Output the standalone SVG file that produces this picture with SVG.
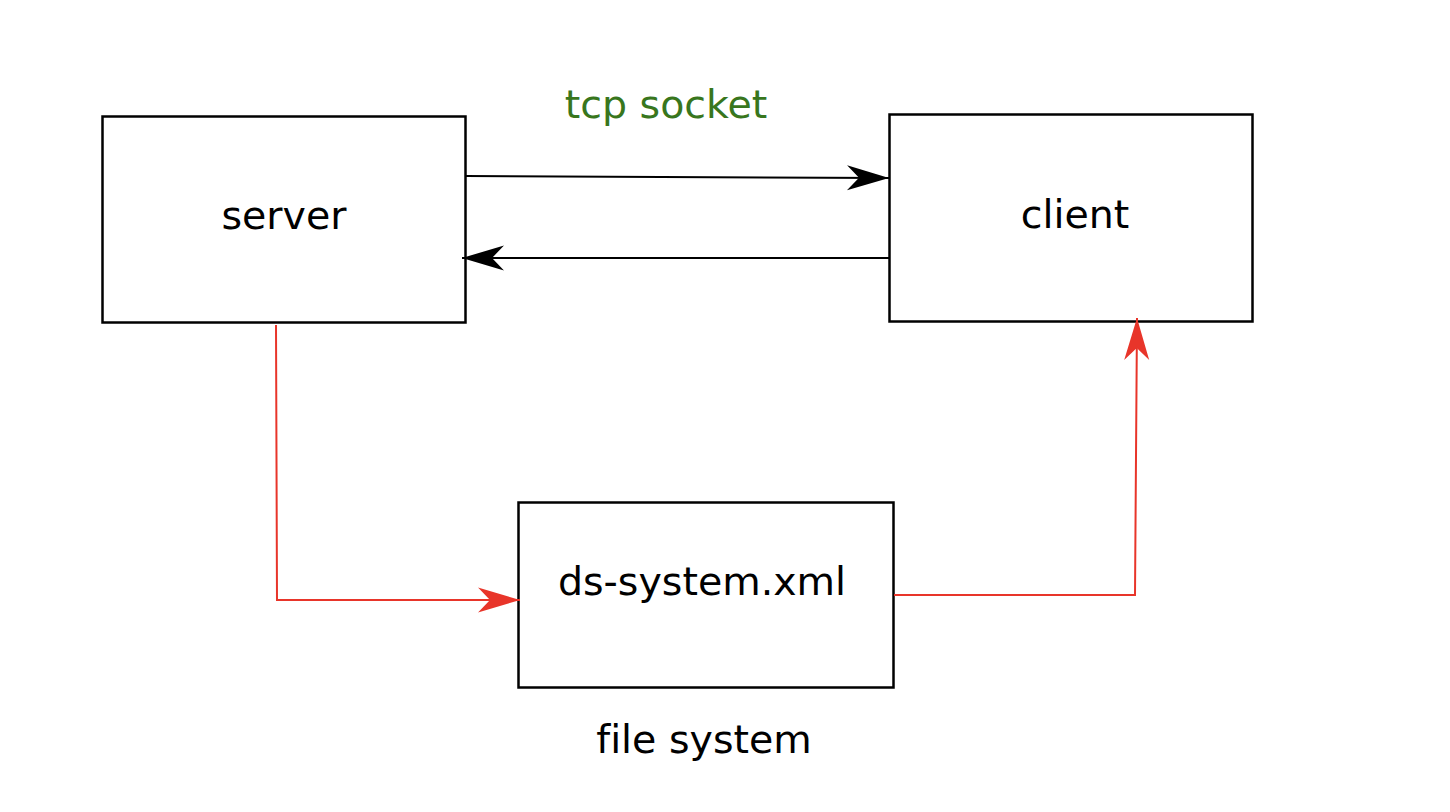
<svg xmlns="http://www.w3.org/2000/svg" width="1450" height="812" viewBox="0 0 1450 812">
<style>
.box{fill:#fff;stroke:#000;stroke-width:2.5}
.lbl{font-family:"DejaVu Sans",Verdana,sans-serif;font-size:39.5px;fill:#000;text-anchor:middle;font-variant-ligatures:none}
.blk{fill:none;stroke:#000;stroke-width:2}
.red{fill:none;stroke:#e8352a;stroke-width:2}
</style>
<defs>
<marker id="ahb" markerUnits="userSpaceOnUse" markerWidth="44" markerHeight="26" refX="42" refY="12.5" orient="auto" overflow="visible">
<path d="M0,0 L42,12.5 L0,25 L12,12.5 z" fill="#000"/>
</marker>
<marker id="ahr" markerUnits="userSpaceOnUse" markerWidth="44" markerHeight="26" refX="42" refY="12.5" orient="auto" overflow="visible">
<path d="M0,0 L42,12.5 L0,25 L12,12.5 z" fill="#e8352a"/>
</marker>
</defs>
<rect width="1450" height="812" fill="#fff"/>
<g id="server"><rect class="box" x="102.5" y="116.5" width="363" height="206"/><text class="lbl" x="284" y="229">server</text></g>
<g id="client"><rect class="box" x="889.5" y="114.5" width="363" height="207"/><text class="lbl" x="1075" y="228">client</text></g>
<g id="ds-system"><rect class="box" x="518.5" y="502.5" width="375" height="185"/><text class="lbl" x="702" y="595">ds-system.xml</text></g>
<g id="labels">
<text class="lbl" x="666" y="118" style="fill:#38761d">tcp socket</text>
<text class="lbl" x="704" y="753">file system</text>
</g>
<g id="connectors">
<path class="blk" d="M466,176 L889,178" marker-end="url(#ahb)"/>
<path class="blk" d="M889,258 L462,258" marker-end="url(#ahb)"/>
<path class="red" d="M276,325 L277,600 L520,600" marker-end="url(#ahr)"/>
<path class="red" d="M894,595 L1135,595 L1137,318" marker-end="url(#ahr)"/>
</g>
</svg>
